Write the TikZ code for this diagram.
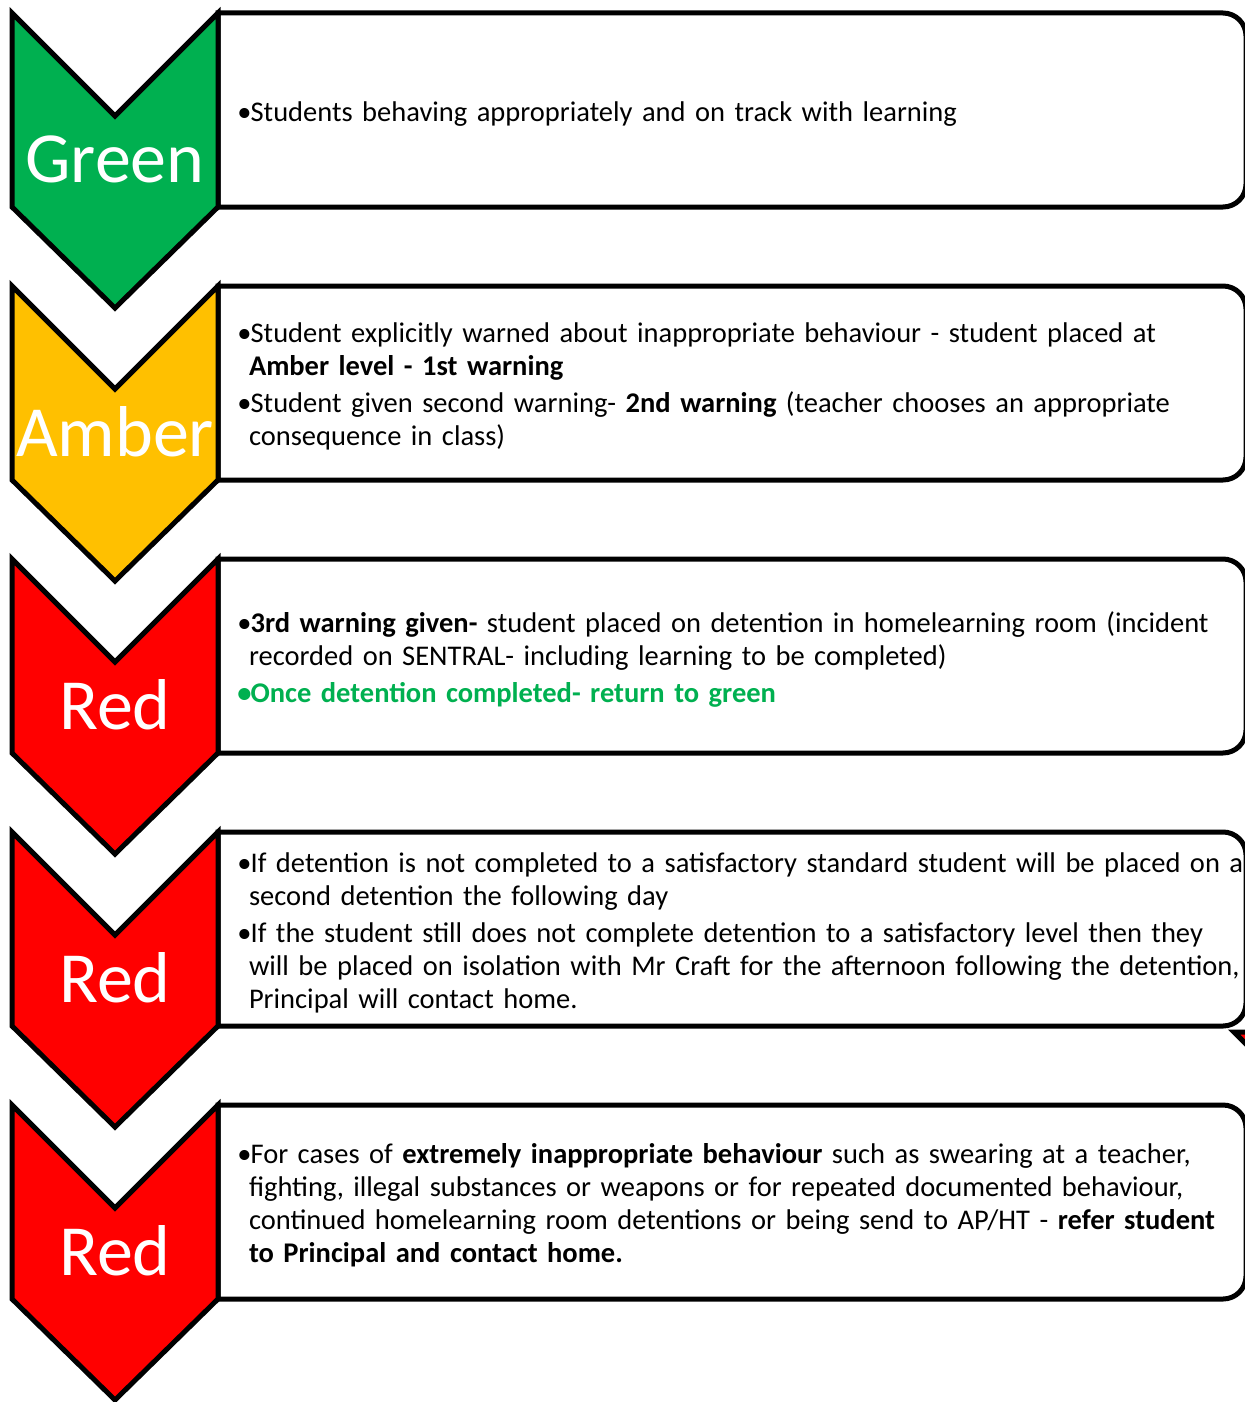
\documentclass[tikz,border=0pt]{standalone}
\usepackage{fontspec}
\setmainfont{Carlito}
\definecolor{tlgreen}{RGB}{0,176,80}
\definecolor{tlamber}{RGB}{255,192,0}
\definecolor{tlred}{RGB}{255,0,0}
\usetikzlibrary{positioning}
% a bulleted paragraph, and a line break that keeps the hanging indent
\newcommand{\bitem}{\par\setlength{\parskip}{2pt}\noindent\makebox[6.6pt][l]{•}}
\newcommand{\bnl}{\newline\hspace*{5.8pt}}

\begin{document}
\begin{tikzpicture}[x=0.5pt,y=-0.5pt,
    chevron/.style={draw=black,line width=2.5pt},
    levelbox/.style={draw=black,line width=2.5pt,fill=white},
    levellabel/.style={anchor=base,text=white,font=\fontsize{36}{40}\selectfont,inner sep=0pt},
    levelnote/.style={anchor=west,align=left,text width=512pt,inner sep=0pt,font=\fontsize{14.25}{16.5}\selectfont}]
  \useasboundingbox (0,0) rectangle (1245,1402);
  \clip (0,0) rectangle (1245,1402);
  % Green
  \draw[levelbox] (218,13) [rounded corners=11.5pt] -- (1246,13) -- (1246,207) [sharp corners] -- (218,207) -- cycle;
  \draw[chevron,fill=tlgreen] (12,13) -- (115,116) -- (218,13) -- (218,207) -- (115,308) -- (12,207) -- cycle;
  \node[levellabel] (lblgreen) at (115,183) {Green};
  \node[levelnote] (notegreen) at (237,105) {\bitem Students behaving appropriately and on track with learning};
  % Amber
  \draw[levelbox] (218,286) [rounded corners=11.5pt] -- (1246,286) -- (1246,480) [sharp corners] -- (218,480) -- cycle;
  \draw[chevron,fill=tlamber] (12,286) -- (115,389) -- (218,286) -- (218,480) -- (115,581) -- (12,480) -- cycle;
  \node[levellabel] (lblamber) at (115,456) {Amber};
  \node[levelnote] (noteamber) at (237,378) {\bitem Student explicitly warned about inappropriate behaviour - student placed at\bnl
    \textbf{Amber level - 1st warning}
    \bitem Student given second warning- \textbf{2nd warning} (teacher chooses an appropriate\bnl
    consequence in class)};
  % Red, 3rd warning
  \draw[levelbox] (218,559) [rounded corners=11.5pt] -- (1246,559) -- (1246,753) [sharp corners] -- (218,753) -- cycle;
  \draw[chevron,fill=tlred] (12,559) -- (115,662) -- (218,559) -- (218,753) -- (115,854) -- (12,753) -- cycle;
  \node[levellabel] (lblred) at (115,729) {Red};
  \node[levelnote] (notered) at (237,651) {\bitem\textbf{3rd warning given-} student placed on detention in homelearning room (incident\bnl
    recorded on SENTRAL- including learning to be completed)
    {\color{tlgreen}\bfseries\bitem Once detention completed- return to green\par}};
  % Red, detention not completed
  \draw[levelbox] (218,832) [rounded corners=11.5pt] -- (1246,832) -- (1246,1026) [sharp corners] -- (218,1026) -- cycle;
  \draw[chevron,fill=tlred] (12,832) -- (115,935) -- (218,832) -- (218,1026) -- (115,1127) -- (12,1026) -- cycle;
  \node[levellabel] (lblredtwo) at (115,1002) {Red};
  \node[levelnote] (noteredtwo) at (237,924) {\bitem If detention is not completed to a satisfactory standard student will be placed on a\bnl
    second detention the following day
    \bitem If the student still does not complete detention to a satisfactory level then they\bnl
    will be placed on isolation with Mr Craft for the afternoon following the detention,\bnl
    Principal will contact home.};
  \draw[line width=2.5pt,fill=tlred] (1234,1032) -- (1252,1032) -- (1252,1050) -- cycle;
  % Red, serious behaviour
  \draw[levelbox] (218,1105) [rounded corners=11.5pt] -- (1246,1105) -- (1246,1299) [sharp corners] -- (218,1299) -- cycle;
  \draw[chevron,fill=tlred] (12,1105) -- (115,1208) -- (218,1105) -- (218,1299) -- (115,1400) -- (12,1299) -- cycle;
  \node[levellabel] (lblredthree) at (115,1275) {Red};
  \node[levelnote] (noteredthree) at (237,1197) {\bitem For cases of \textbf{extremely inappropriate behaviour} such as swearing at a teacher,\bnl
    fighting, illegal substances or weapons or for repeated documented behaviour,\bnl
    continued homelearning room detentions or being send to AP/HT - \textbf{refer student\bnl
    to Principal and contact home.}};
\end{tikzpicture}
\end{document}
